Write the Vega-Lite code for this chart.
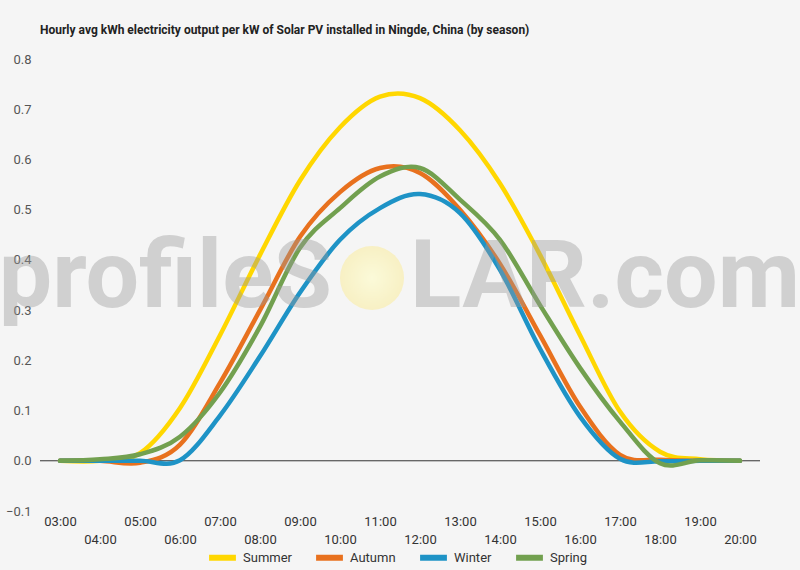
{
  "$schema": "https://vega.github.io/schema/vega-lite/v6.json",
  "width": 720,
  "height": 452,
  "autosize": {"type": "none"},
  "padding": {"left": 40, "top": 59, "right": 40, "bottom": 59},
  "background": "#f5f5f5",
  "title": {
    "text": "Hourly avg kWh electricity output per kW of Solar PV installed in Ningde, China (by season)",
    "anchor": "start",
    "frame": "group",
    "font": "Roboto",
    "fontSize": 12,
    "fontWeight": "bold",
    "color": "#222222",
    "offset": 16
  },
  "config": {"view": {"stroke": null}, "font": "Roboto"},
  "datasets": {
    "output": [
      {"hour": 3, "season": "Summer", "kwh": 0},
      {"hour": 4, "season": "Summer", "kwh": 0},
      {"hour": 5, "season": "Summer", "kwh": 0.015},
      {"hour": 6, "season": "Summer", "kwh": 0.105},
      {"hour": 7, "season": "Summer", "kwh": 0.25},
      {"hour": 8, "season": "Summer", "kwh": 0.41},
      {"hour": 9, "season": "Summer", "kwh": 0.558},
      {"hour": 10, "season": "Summer", "kwh": 0.664},
      {"hour": 11, "season": "Summer", "kwh": 0.725},
      {"hour": 12, "season": "Summer", "kwh": 0.722},
      {"hour": 13, "season": "Summer", "kwh": 0.658},
      {"hour": 14, "season": "Summer", "kwh": 0.552},
      {"hour": 15, "season": "Summer", "kwh": 0.41},
      {"hour": 16, "season": "Summer", "kwh": 0.25},
      {"hour": 17, "season": "Summer", "kwh": 0.098},
      {"hour": 18, "season": "Summer", "kwh": 0.018},
      {"hour": 19, "season": "Summer", "kwh": 0.003},
      {"hour": 20, "season": "Summer", "kwh": 0},
      {"hour": 3, "season": "Autumn", "kwh": 0},
      {"hour": 4, "season": "Autumn", "kwh": 0},
      {"hour": 5, "season": "Autumn", "kwh": -0.004},
      {"hour": 6, "season": "Autumn", "kwh": 0.032},
      {"hour": 7, "season": "Autumn", "kwh": 0.155},
      {"hour": 8, "season": "Autumn", "kwh": 0.3},
      {"hour": 9, "season": "Autumn", "kwh": 0.446},
      {"hour": 10, "season": "Autumn", "kwh": 0.535},
      {"hour": 11, "season": "Autumn", "kwh": 0.583},
      {"hour": 12, "season": "Autumn", "kwh": 0.573},
      {"hour": 13, "season": "Autumn", "kwh": 0.5},
      {"hour": 14, "season": "Autumn", "kwh": 0.392},
      {"hour": 15, "season": "Autumn", "kwh": 0.25},
      {"hour": 16, "season": "Autumn", "kwh": 0.108},
      {"hour": 17, "season": "Autumn", "kwh": 0.012},
      {"hour": 18, "season": "Autumn", "kwh": 0.002},
      {"hour": 19, "season": "Autumn", "kwh": 0},
      {"hour": 20, "season": "Autumn", "kwh": 0},
      {"hour": 3, "season": "Winter", "kwh": 0},
      {"hour": 4, "season": "Winter", "kwh": 0},
      {"hour": 5, "season": "Winter", "kwh": 0},
      {"hour": 6, "season": "Winter", "kwh": 0.001},
      {"hour": 7, "season": "Winter", "kwh": 0.09},
      {"hour": 8, "season": "Winter", "kwh": 0.208},
      {"hour": 9, "season": "Winter", "kwh": 0.335},
      {"hour": 10, "season": "Winter", "kwh": 0.44},
      {"hour": 11, "season": "Winter", "kwh": 0.503},
      {"hour": 12, "season": "Winter", "kwh": 0.531},
      {"hour": 13, "season": "Winter", "kwh": 0.493},
      {"hour": 14, "season": "Winter", "kwh": 0.38},
      {"hour": 15, "season": "Winter", "kwh": 0.223},
      {"hour": 16, "season": "Winter", "kwh": 0.088},
      {"hour": 17, "season": "Winter", "kwh": 0.004},
      {"hour": 18, "season": "Winter", "kwh": -0.001},
      {"hour": 19, "season": "Winter", "kwh": 0},
      {"hour": 20, "season": "Winter", "kwh": 0},
      {"hour": 3, "season": "Spring", "kwh": 0},
      {"hour": 4, "season": "Spring", "kwh": 0.003},
      {"hour": 5, "season": "Spring", "kwh": 0.013},
      {"hour": 6, "season": "Spring", "kwh": 0.048},
      {"hour": 7, "season": "Spring", "kwh": 0.136},
      {"hour": 8, "season": "Spring", "kwh": 0.267},
      {"hour": 9, "season": "Spring", "kwh": 0.424},
      {"hour": 10, "season": "Spring", "kwh": 0.503},
      {"hour": 11, "season": "Spring", "kwh": 0.566},
      {"hour": 12, "season": "Spring", "kwh": 0.583},
      {"hour": 13, "season": "Spring", "kwh": 0.52},
      {"hour": 14, "season": "Spring", "kwh": 0.44},
      {"hour": 15, "season": "Spring", "kwh": 0.31},
      {"hour": 16, "season": "Spring", "kwh": 0.185},
      {"hour": 17, "season": "Spring", "kwh": 0.078},
      {"hour": 18, "season": "Spring", "kwh": -0.005},
      {"hour": 19, "season": "Spring", "kwh": 0.001},
      {"hour": 20, "season": "Spring", "kwh": 0}
    ],
    "brandLeft": [{"word": "profileS"}],
    "brandSun": [{"word": "O"}],
    "brandRight": [{"word": "LAR.com"}]
  },
  "layer": [
    {
      "data": {"name": "brandSun"},
      "mark": {"type": "rule", "color": "#333333", "strokeWidth": 1},
      "encoding": {"y": {"datum": 0, "type": "quantitative", "scale": {"domain": [-0.1, 0.8], "nice": false, "zero": false}}}
    },
    {
      "data": {"name": "output"},
      "mark": {"type": "line", "interpolate": "cardinal", "strokeWidth": 4.5, "strokeCap": "round", "strokeJoin": "round"},
      "encoding": {
        "x": {
          "field": "hour",
          "type": "quantitative",
          "scale": {"domain": [2.5, 20.5], "nice": false, "zero": false},
          "axis": {
            "title": null,
            "values": [3, 4, 5, 6, 7, 8, 9, 10, 11, 12, 13, 14, 15, 16, 17, 18, 19, 20],
            "grid": false,
            "domain": false,
            "ticks": false,
            "labelExpr": "datum.value % 2 == 1 ? (datum.value < 10 ? '0' : '') + datum.value + ':00' : ['', (datum.value < 10 ? '0' : '') + datum.value + ':00']",
            "labelFont": "Roboto",
            "labelFontSize": 13,
            "labelColor": "#333333",
            "labelPadding": 4,
            "labelLineHeight": 18,
            "labelOverlap": false,
            "labelFlush": false
          }
        },
        "y": {
          "field": "kwh",
          "type": "quantitative",
          "scale": {"domain": [-0.1, 0.8], "nice": false, "zero": false},
          "axis": {
            "title": null,
            "values": [-0.1, -0.05, 0, 0.05, 0.1, 0.15, 0.2, 0.25, 0.3, 0.35, 0.4, 0.45, 0.5, 0.55, 0.6, 0.65, 0.7, 0.75, 0.8],
            "domain": false,
            "ticks": false,
            "labelExpr": "abs(datum.value * 10 - round(datum.value * 10)) > 0.25 ? '' : format(datum.value, '.1f')",
            "labelFont": "Roboto",
            "labelFontSize": 13,
            "labelColor": "#555555",
            "labelPadding": 9,
            "gridColor": {
              "condition": {"test": "abs(datum.value * 10 - round(datum.value * 10)) > 0.25", "value": "#e6e6e6"},
              "value": "#cccccc"
            },
            "gridWidth": 1
          }
        },
        "color": {
          "field": "season",
          "type": "nominal",
          "scale": {
            "domain": ["Summer", "Autumn", "Winter", "Spring"],
            "range": ["#FFD700", "#E8711E", "#1E93C6", "#72A04F"]
          },
          "legend": {
            "orient": "none",
            "legendX": 166,
            "legendY": 482,
            "direction": "horizontal",
            "title": null,
            "symbolType": "stroke",
            "symbolStrokeWidth": 6,
            "symbolSize": 720,
            "labelFont": "Roboto",
            "labelFontSize": 13,
            "labelColor": "#333333",
            "columnPadding": 12,
            "labelOffset": 4
          }
        }
      }
    },
    {
      "data": {"name": "brandLeft"},
      "mark": {"type": "text", "align": "right", "baseline": "alphabetic", "font": "Roboto", "fontWeight": "bold", "fontSize": 95, "color": "#9a9a9a", "opacity": 0.4},
      "encoding": {
        "x": {"datum": 9.8, "type": "quantitative"},
        "y": {"datum": 0.306, "type": "quantitative"},
        "text": {"field": "word"}
      }
    },
    {
      "data": {"name": "brandSun"},
      "mark": {
        "type": "point",
        "filled": true,
        "size": 4100,
        "opacity": 0.85,
        "color": {
          "gradient": "radial",
          "stops": [
            {"offset": 0, "color": "#fcfbd4"},
            {"offset": 1, "color": "#f8efbb"}
          ]
        }
      },
      "encoding": {
        "x": {"datum": 10.8, "type": "quantitative"},
        "y": {"datum": 0.364, "type": "quantitative"}
      }
    },
    {
      "data": {"name": "brandRight"},
      "mark": {"type": "text", "align": "left", "baseline": "alphabetic", "font": "Roboto", "fontWeight": "bold", "fontSize": 95, "color": "#9a9a9a", "opacity": 0.4},
      "encoding": {
        "x": {"datum": 11.75, "type": "quantitative"},
        "y": {"datum": 0.306, "type": "quantitative"},
        "text": {"field": "word"}
      }
    }
  ]
}
